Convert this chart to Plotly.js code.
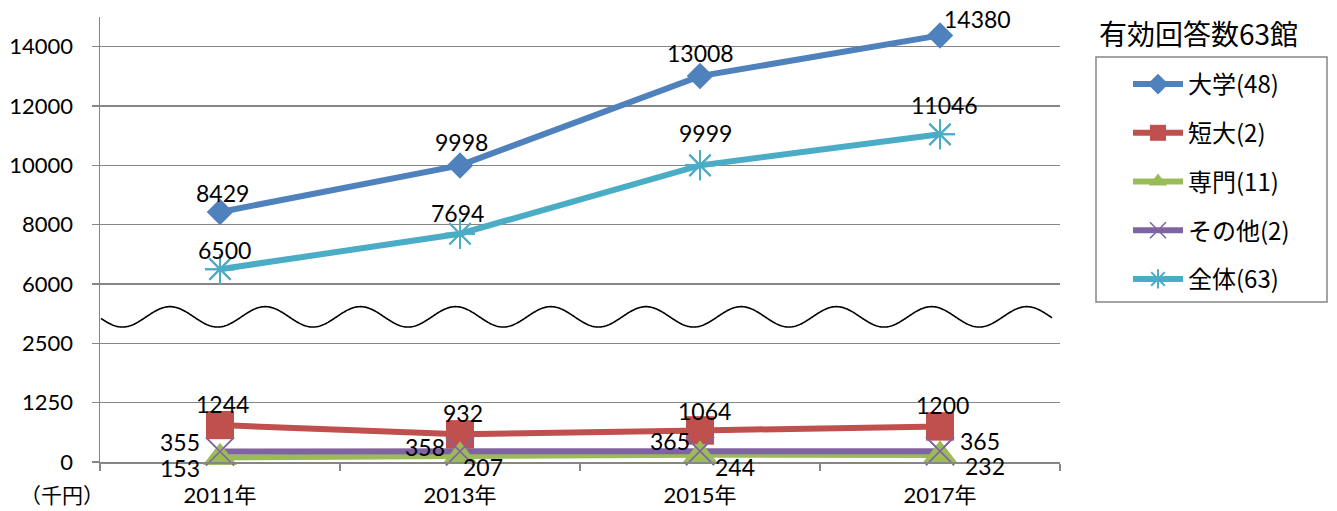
<!DOCTYPE html>
<html>
<head>
<meta charset="utf-8">
<script src="https://cdn.plot.ly/plotly-3.0.1.min.js"></script>
<style>html,body{margin:0;padding:0;background:#fff;}#chart{width:1337px;height:511px;}</style>
</head>
<body>
<div id="chart"></div>
<script>
// ---- data ----
const years = ['2011年', '2013年', '2015年', '2017年'];
const seriesNames = ['大学(48)', '短大(2)', '専門(11)', 'その他(2)', '全体(63)'];
const daigaku = [8429, 9998, 13008, 14380];
const tandai = [1244, 932, 1064, 1200];
const senmon = [153, 207, 244, 232];
const sonota = [355, 358, 365, 365];
const zentai = [6500, 7694, 9999, 11046];
// y-axis: underlying linear scale, relabelled (broken axis)
const yTickVals = [0, 2000, 4000, 6000, 8000, 10000, 12000, 14000];
const yTickText = ['0', '1250', '2500', '6000', '8000', '10000', '12000', '14000'];
const legendTitle = '有効回答数63館';
const unitLabel = '（千円）';

// ---- styles ----
const FONT = "Lato, 'Noto Sans CJK JP', sans-serif";
const JFONT = "'Noto Sans CJK JP', Lato, sans-serif";
const seriesData = [daigaku, tandai, senmon, sonota, zentai];
const colors = ['#4F81BD', '#C0504D', '#9BBB59', '#8064A2', '#4BACC6'];
const symbols = ['diamond', 'square', 'triangle-up', 'x-thin-open', 'asterisk-open'];
const sizes = [20, 28, 29, 28, 25];
const markerLineW = [0, 0, 0, 1.6, 2];
// data-label offsets in px [dx, dy(down)], per series / point
const labelOffsets = [
  [[2, -19], [1, -23], [0, -23], [37, -16]],
  [[2, -21], [3, -21], [4, -19], [2, -21]],
  [[-40, 11], [23, 11], [35, 12], [45, 11]],
  [[-40, -9], [-35, -4], [-30, -10], [40, -10]],
  [[4, -19], [-3, -21], [5, -32], [4, -29]]
];

function markerOf(i) {
  return {symbol: symbols[i], size: sizes[i], color: colors[i], line: {color: colors[i], width: markerLineW[i]}};
}
// lines (with legend entries) first, then markers on top
const lineTraces = seriesData.map((y, i) => ({
  type: 'scatter', mode: 'lines+markers', x: years, y: y, name: seriesNames[i],
  legendgroup: seriesNames[i],
  line: {color: colors[i], width: 6}, marker: markerOf(i),
  cliponaxis: false, hoverinfo: 'skip'
}));
const markerTraces = seriesData.map((y, i) => ({
  type: 'scatter', mode: 'markers', x: years, y: y, name: seriesNames[i],
  legendgroup: seriesNames[i], showlegend: false, marker: markerOf(i),
  cliponaxis: false, hoverinfo: 'skip'
}));

// plot geometry (px) for decoration
const L = 100, R = 1060, T = 17, B = 462;
const W = R - L, H = B - T;
function px2paperX(px) { return (px - L) / W; }
function px2paperY(py) { return (B - py) / H; }

// wavy break line (decoration)
let path = '';
for (let px = 101; px <= 1052; px += 1) {
  const py = 316.85 - 10.2 * Math.cos(2 * Math.PI * (px - 170) / 95.2);
  path += (path ? 'L' : 'M') + px2paperX(px).toFixed(5) + ',' + px2paperY(py).toFixed(5);
}

const annotations = [];
seriesData.forEach((y, i) => {
  y.forEach((v, j) => {
    annotations.push({
      xref: 'x', yref: 'y', x: years[j], y: v, text: String(v), showarrow: false,
      xanchor: 'center', yanchor: 'middle',
      xshift: labelOffsets[i][j][0], yshift: -labelOffsets[i][j][1],
      font: {family: FONT, size: 23, color: '#000'}
    });
  });
});
annotations.push(
  {xref: 'paper', yref: 'paper', x: px2paperX(1097), y: px2paperY(33), text: legendTitle, showarrow: false,
   xanchor: 'left', yanchor: 'middle', font: {family: JFONT, size: 28, color: '#000'}},
  {xref: 'paper', yref: 'paper', x: px2paperX(62), y: px2paperY(494), text: unitLabel, showarrow: false,
   xanchor: 'center', yanchor: 'middle', font: {family: JFONT, size: 21, color: '#000'}}
);

const layout = {
  width: 1337, height: 511,
  margin: {l: L, r: 1337 - R, t: T, b: 511 - B, pad: 0},
  paper_bgcolor: '#fff', plot_bgcolor: '#fff',
  font: {family: FONT, size: 22, color: '#000'},
  showlegend: true,
  legend: {
    x: px2paperX(1128), y: px2paperY(62), xanchor: 'left', yanchor: 'top',
    bgcolor: 'rgba(0,0,0,0)', borderwidth: 0,
    font: {family: JFONT, size: 24, color: '#000'},
    traceorder: 'grouped', tracegroupgap: 14.5, itemwidth: 50
  },
  xaxis: {
    type: 'category', range: [-0.5, 3.5], tickson: 'boundaries',
    showgrid: false, zeroline: false, showline: true, linecolor: '#868686', linewidth: 1.5,
    ticks: 'outside', ticklen: 7, tickcolor: '#868686', tickwidth: 1.5,
    tickfont: {family: FONT, size: 22, color: '#000'}, ticklabelstandoff: 13,
    fixedrange: true
  },
  yaxis: {
    range: [0, 15000], tickvals: yTickVals, ticktext: yTickText,
    showgrid: true, gridcolor: '#868686', gridwidth: 1.5, zeroline: false,
    showline: true, linecolor: '#868686', linewidth: 1.5,
    ticks: 'outside', ticklen: 7, tickcolor: '#868686', tickwidth: 1.5,
    tickfont: {family: FONT, size: 22, color: '#000'}, ticklabelstandoff: 14,
    fixedrange: true
  },
  shapes: [
    {type: 'path', xref: 'paper', yref: 'paper', path: path, line: {color: '#000', width: 1.6}, layer: 'above'},
    {type: 'rect', xref: 'paper', yref: 'paper', x0: px2paperX(1096), x1: px2paperX(1327), y0: px2paperY(302), y1: px2paperY(57),
     line: {color: '#868686', width: 1.5}, fillcolor: 'rgba(0,0,0,0)'}
  ],
  annotations: annotations
};

Plotly.newPlot('chart', lineTraces.concat(markerTraces), layout, {displayModeBar: false, staticPlot: true});
</script>
</body>
</html>
